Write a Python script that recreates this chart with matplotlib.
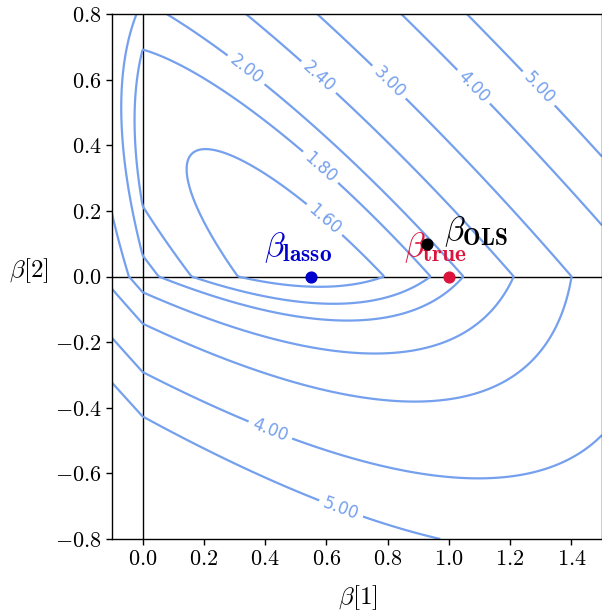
import numpy as np
import matplotlib
matplotlib.use("Agg")
import matplotlib.pyplot as plt
from matplotlib.ticker import FuncFormatter

plt.rcParams['mathtext.fontset'] = 'cm'
plt.rcParams['font.family'] = ['DejaVu Sans']

# ---- values ----
beta_ols = [0.93, 0.10]          # unpenalised minimiser
beta_lasso = [0.55, 0.0]
beta_true = [1.0, 0.0]
gram = [[2.10, 1.864], [1.864, 2.12]]   # quadratic form of the loss
lam = 1.969                      # L1 penalty weight
offset = -0.069                  # constant term
levels = [1.6, 1.8, 2.0, 2.4, 3.0, 4.0, 5.0]
label_pos = [(0.338, 0.630), (0.582, 0.334), (0.598, 0.178), (0.575, 0.608),
             (0.805, 0.593), (1.084, 0.581), (1.292, 0.572),
             (0.417, -0.468), (0.651, -0.700)]
xticks = [0.0, 0.2, 0.4, 0.6, 0.8, 1.0, 1.2, 1.4]
yticks = [-0.8, -0.6, -0.4, -0.2, 0.0, 0.2, 0.4, 0.6, 0.8]

contour_color = '#75a0ee'

fig = plt.figure(figsize=(6.02, 6.15), dpi=100)
ax = fig.add_axes([112/602, 76/615, 490/602, 525/615])

b1 = np.linspace(-0.1, 1.5, 600)
b2 = np.linspace(-0.8, 0.8, 600)
B1, B2 = np.meshgrid(b1, b2)
D1 = B1 - beta_ols[0]
D2 = B2 - beta_ols[1]
A = np.array(gram)
F = offset + A[0, 0]*D1**2 + 2*A[0, 1]*D1*D2 + A[1, 1]*D2**2 + lam*(np.abs(B1) + np.abs(B2))

ax.axhline(0, color='k', lw=1.0, zorder=1)
ax.axvline(0, color='k', lw=1.0, zorder=1)
cs = ax.contour(B1, B2, F, levels=levels, colors=contour_color, linewidths=1.6, zorder=2)
ax.clabel(cs, levels, manual=label_pos, fmt='%.2f', fontsize=12, inline=True)

ax.scatter([beta_lasso[0]], [beta_lasso[1]], s=60, color='mediumblue', zorder=5)
ax.scatter([beta_true[0]], [beta_true[1]], s=60, color='crimson', zorder=5)
ax.scatter([beta_ols[0]], [beta_ols[1]], s=60, color='black', zorder=5)

ax.text(0.506, 0.087, r'$\beta_{\mathbf{lasso}}$', color='mediumblue', fontsize=24,
        ha='center', va='center')
ax.text(0.956, 0.087, r'$\beta_{\mathbf{true}}$', color='crimson', fontsize=24,
        ha='center', va='center')
ax.text(1.09, 0.136, r'$\beta_{\mathbf{OLS}}$', color='black', fontsize=24,
        ha='center', va='center')

ax.set_xlim(-0.1, 1.5)
ax.set_ylim(-0.8, 0.8)
ax.set_xticks(xticks)
ax.set_yticks(yticks)
fmt = FuncFormatter(lambda v, p: '$%.1f$' % v)
ax.xaxis.set_major_formatter(fmt)
ax.yaxis.set_major_formatter(fmt)
ax.tick_params(labelsize=16, length=4, width=1)
ax.set_xlabel(r'$\beta[1]$', fontsize=18)
ax.set_ylabel(r'$\beta[2]$', fontsize=18, rotation=0, va='center')
ax.xaxis.set_label_coords(0.502, -0.085)
ax.yaxis.set_label_coords(-0.169, 0.512)
for s in ax.spines.values():
    s.set_linewidth(1.0)

fig.savefig('out.png', dpi=100)
